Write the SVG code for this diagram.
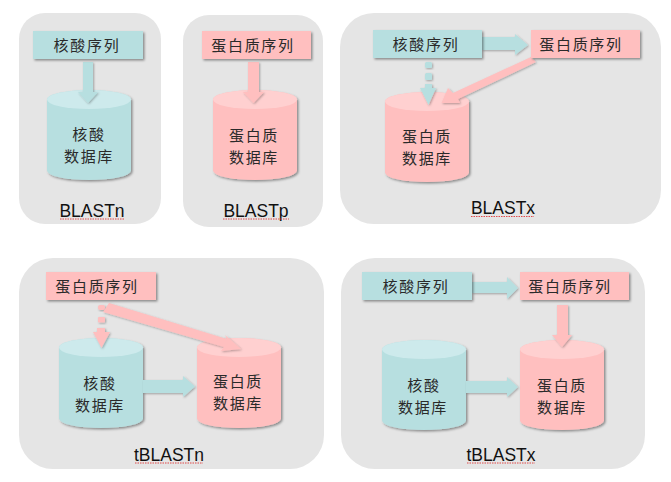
<svg xmlns="http://www.w3.org/2000/svg" width="671" height="482" viewBox="0 0 671 482">
<style>
.panel{fill:#e5e5e5}
.t{fill:#b7dfe0}.p{fill:#ffbfbf}
.tt{fill:#cdeaec}.pt{fill:#ffd0d0}
.box,.cy{filter:url(#sh)}
.ar{filter:url(#sh2)}
text{fill:#2a2a2a}
.cn{font-family:"Noto Sans CJK SC","Noto Sans",sans-serif;font-size:15px;letter-spacing:1.7px;text-anchor:middle}
.lb{font-family:"Liberation Sans",Arial,sans-serif;font-size:17.5px;text-anchor:middle;fill:#111}
.sq{stroke:#e04a4a;stroke-width:1;stroke-dasharray:1.5 1;fill:none}
</style>
<defs>
<filter id="sh" x="-10%" y="-10%" width="125%" height="125%"><feDropShadow dx="1.5" dy="1.5" stdDeviation="1.2" flood-color="#000" flood-opacity=".4"/></filter>
<filter id="sh2" x="-20%" y="-20%" width="150%" height="150%"><feDropShadow dx="1" dy="1" stdDeviation="1" flood-color="#000" flood-opacity=".3"/></filter>
<g id="cyl-t"><path class="t cy" d="M0 9.500A42 9.500 0 0 1 84 9.500V80.500A42 9.500 0 0 1 0 80.500Z"/><ellipse class="tt" cx="42" cy="9.500" rx="42" ry="9.500"/></g>
<g id="cyl-p"><path class="p cy" d="M0 9.500A42 9.500 0 0 1 84 9.500V80.500A42 9.500 0 0 1 0 80.500Z"/><ellipse class="pt" cx="42" cy="9.500" rx="42" ry="9.500"/></g>
</defs>

<g id="panels">
<rect class="panel" x="19" y="13" width="142" height="211" rx="26"/>
<rect class="panel" x="183" y="15" width="140" height="212" rx="26"/>
<rect class="panel" x="340" y="13" width="321" height="211" rx="34"/>
<rect class="panel" x="19" y="258" width="305" height="211" rx="34"/>
<rect class="panel" x="341" y="258" width="304" height="211" rx="34"/>
</g>

<g id="db-n1" transform="translate(47 90)"><use href="#cyl-t"/><text class="cn" x="42" y="50">核酸</text><text class="cn" x="42" y="72">数据库</text></g>
<g id="db-p2" transform="translate(213 90)"><use href="#cyl-p"/><text class="cn" x="41" y="51">蛋白质</text><text class="cn" x="41" y="73">数据库</text></g>
<g id="db-p3" transform="translate(385 92)"><use href="#cyl-p"/><text class="cn" x="42" y="50">蛋白质</text><text class="cn" x="42" y="72">数据库</text></g>
<g id="db-n4" transform="translate(59 338)"><use href="#cyl-t"/><text class="cn" x="41" y="51">核酸</text><text class="cn" x="41" y="73">数据库</text></g>
<g id="db-p4" transform="translate(197 338)"><use href="#cyl-p"/><text class="cn" x="41" y="49">蛋白质</text><text class="cn" x="41" y="71">数据库</text></g>
<g id="db-n5" transform="translate(382 340)"><use href="#cyl-t"/><text class="cn" x="42" y="51">核酸</text><text class="cn" x="41" y="73">数据库</text></g>
<g id="db-p5" transform="translate(520 340)"><use href="#cyl-p"/><text class="cn" x="42" y="51">蛋白质</text><text class="cn" x="42" y="73">数据库</text></g>

<g id="connectors">
<polygon class="t ar" points="83,62 93,62 93,92 98,92 88,103 78,92 83,92"/>
<polygon class="p ar" points="248,62 259,62 259,92 264,92 253.500,103 243,92 248,92"/>
<polygon class="t ar" points="482,37 515,37 515,34 528,45 515,55 515,50 482,50"/>
<rect class="t ar" x="425" y="62" width="7" height="6" rx="1.500"/>
<rect class="t ar" x="425" y="73" width="7" height="7" rx="1.500"/>
<polygon class="t ar" points="425,84 432,84 432,88 436,88 428.500,105 420,88 425,88"/>
<polygon class="p ar" points="531,57 536,62 458,99 460,103 441.500,103 448,88 453,93"/>
<rect class="p ar" x="98" y="305" width="7" height="5" rx="2"/>
<rect class="p ar" x="98" y="317" width="7" height="5.500" rx="1"/>
<polygon class="p ar" points="97,328 105,328 105,332 110,332 101.500,348 93,332 97,332"/>
<polygon class="p ar" points="109,303 227,339 225,335 241,349 221,351 224,347 103,312"/>
<polygon class="t ar" points="143,380 183,380 183,376 195,386.500 183,397 183,393 143,393"/>
<polygon class="t ar" points="472,282 507,282 507,277 518,288 507,299 507,293 472,293"/>
<polygon class="p ar" points="557,305 568,305 568,335 572,335 562,347 552,335 557,335"/>
<polygon class="t ar" points="466,381 507,381 507,377 518,387 507,397 507,393 466,393"/>
</g>

<g id="seq-n1"><rect class="t box" x="33" y="31" width="110" height="28"/><text class="cn" x="87" y="51">核酸序列</text></g>
<g id="seq-p2"><rect class="p box" x="202" y="31" width="109" height="28"/><text class="cn" x="253" y="51">蛋白质序列</text></g>
<g id="seq-n3"><rect class="t box" x="373" y="30" width="109" height="28"/><text class="cn" x="426" y="50">核酸序列</text></g>
<g id="seq-p3"><rect class="p box" x="531" y="30" width="109" height="28"/><text class="cn" x="581" y="50">蛋白质序列</text></g>
<g id="seq-p4"><rect class="p box" x="46" y="272" width="110" height="28"/><text class="cn" x="97" y="292">蛋白质序列</text></g>
<g id="seq-n5"><rect class="t box" x="362" y="272" width="110" height="28"/><text class="cn" x="416" y="292">核酸序列</text></g>
<g id="seq-p5"><rect class="p box" x="520" y="272" width="109" height="28"/><text class="cn" x="570" y="292">蛋白质序列</text></g>

<g id="labels">
<text class="lb" x="92" y="216.500">BLASTn</text><path class="sq" d="M60 219H125"/>
<text class="lb" x="256" y="217">BLASTp</text><path class="sq" d="M223 219H289"/>
<text class="lb" x="503" y="214">BLASTx</text><path class="sq" d="M471 216.500H534"/>
<text class="lb" x="169" y="461">tBLASTn</text><path class="sq" d="M135 463H203"/>
<text class="lb" x="501" y="461">tBLASTx</text><path class="sq" d="M467 463H535"/>
</g>
</svg>
